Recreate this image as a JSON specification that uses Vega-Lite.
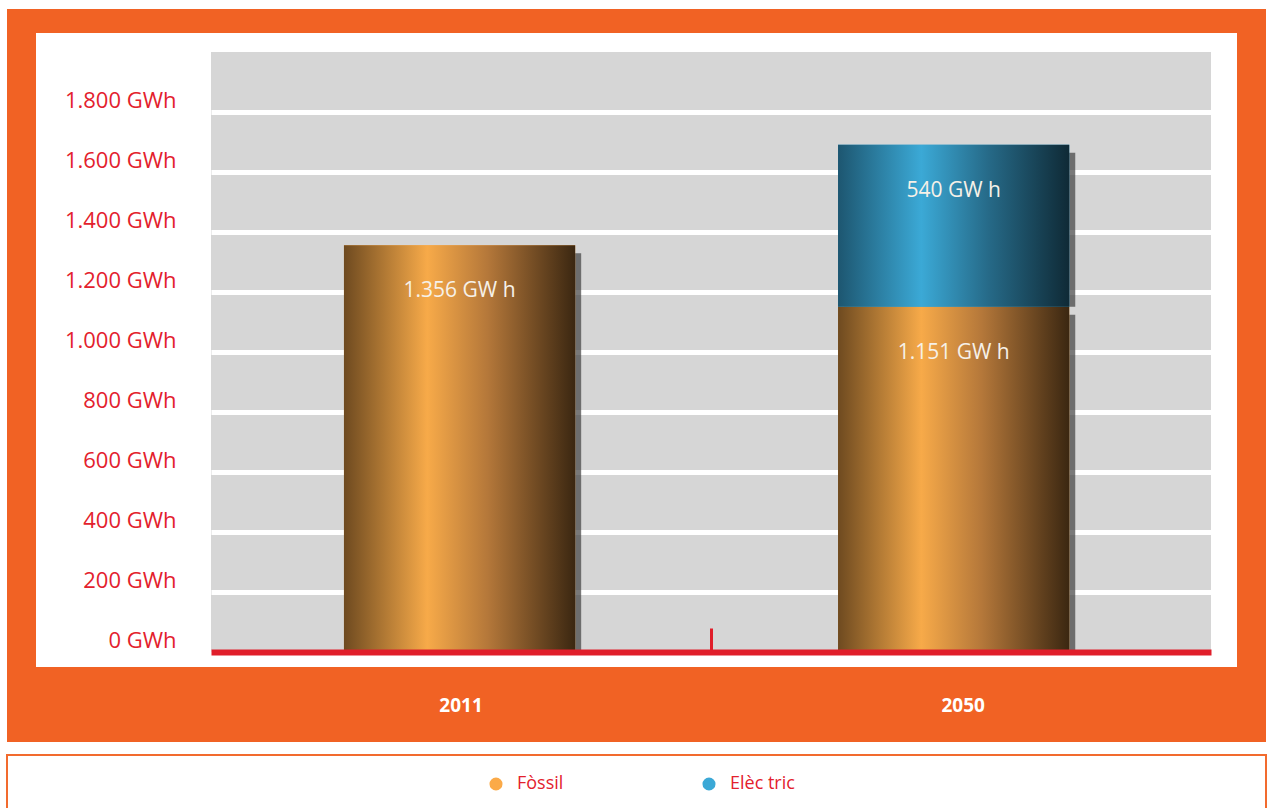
{
  "$schema": "https://vega.github.io/schema/vega-lite/v6.json",
  "width": 1000,
  "height": 600,
  "autosize": {"type": "none"},
  "padding": {"left": 211, "top": 52, "right": 57, "bottom": 156},
  "background": "white",
  "config": {"view": {"fill": "#d6d6d6", "stroke": null}, "font": "Open Sans"},
  "layer": [
    {
      "data": {"values": [{}]},
      "layer": [
        {
          "mark": {"type": "rect", "color": "#f16224", "clip": false},
          "encoding": {
            "x": {"datum": -204, "type": "quantitative", "scale": {"domain": [0, 1000], "nice": false}, "axis": null},
            "x2": {"datum": 1055},
            "y": {"datum": -43, "type": "quantitative", "scale": {"domain": [0, 600], "nice": false, "reverse": true}, "axis": null},
            "y2": {"datum": -19}
          }
        },
        {
          "mark": {"type": "rect", "color": "#f16224", "clip": false},
          "encoding": {
            "x": {"datum": -204, "type": "quantitative", "scale": {"domain": [0, 1000], "nice": false}, "axis": null},
            "x2": {"datum": 1055},
            "y": {"datum": 615, "type": "quantitative", "scale": {"domain": [0, 600], "nice": false, "reverse": true}, "axis": null},
            "y2": {"datum": 690}
          }
        },
        {
          "mark": {"type": "rect", "color": "#f16224", "clip": false},
          "encoding": {
            "x": {"datum": -204, "type": "quantitative", "scale": {"domain": [0, 1000], "nice": false}, "axis": null},
            "x2": {"datum": -175},
            "y": {"datum": -19, "type": "quantitative", "scale": {"domain": [0, 600], "nice": false, "reverse": true}, "axis": null},
            "y2": {"datum": 615}
          }
        },
        {
          "mark": {"type": "rect", "color": "#f16224", "clip": false},
          "encoding": {
            "x": {"datum": 1026, "type": "quantitative", "scale": {"domain": [0, 1000], "nice": false}, "axis": null},
            "x2": {"datum": 1055},
            "y": {"datum": -19, "type": "quantitative", "scale": {"domain": [0, 600], "nice": false, "reverse": true}, "axis": null},
            "y2": {"datum": 615}
          }
        },
        {
          "mark": {"type": "rect", "fill": "white", "stroke": "#f26b2e", "strokeWidth": 2, "clip": false},
          "encoding": {
            "x": {"datum": -204, "type": "quantitative", "scale": {"domain": [0, 1000], "nice": false}, "axis": null},
            "x2": {"datum": 1055},
            "y": {"datum": 703, "type": "quantitative", "scale": {"domain": [0, 600], "nice": false, "reverse": true}, "axis": null},
            "y2": {"datum": 790}
          }
        }
      ]
    },
    {
      "data": {
        "values": [
          {"year": "2011", "type": "Fòssil", "value": 1356, "label": "1.356 GW h"},
          {"year": "2050", "type": "Fòssil", "value": 1151, "label": "1.151 GW h"},
          {"year": "2050", "type": "Elèc tric", "value": 540, "label": "540 GW h"}
        ]
      },
      "transform": [
        {"stack": "value", "groupby": ["year"], "sort": [{"field": "type", "order": "descending"}], "as": ["v0", "v1"]}
      ],
      "encoding": {
        "x": {
          "field": "year",
          "type": "nominal",
          "scale": {"paddingInner": 0.532, "paddingOuter": 0.278, "align": 0.484},
          "axis": {
            "orient": "bottom",
            "title": null,
            "labelAngle": 0,
            "labelFont": "Open Sans",
            "labelFontWeight": "bold",
            "labelFontSize": 19,
            "labelColor": "white",
            "labelPadding": 77,
            "labelBaseline": "middle",
            "labelOffset": {"condition": {"test": "datum.value === '2050'", "value": -242}, "value": -250},
            "domainColor": "#e01e2a",
            "domainWidth": 6,
            "tickOffset": 251,
            "tickColor": "#e01e2a",
            "tickWidth": 3,
            "tickSize": -24,
            "tickOpacity": {"condition": {"test": "datum.value === '2050'", "value": 0}, "value": 1},
            "grid": false,
            "zindex": 1
          }
        },
        "y": {
          "field": "v1",
          "type": "quantitative",
          "scale": {"domain": [0, 2000], "nice": false},
          "axis": {
            "orient": "left",
            "title": null,
            "values": [0, 200, 400, 600, 800, 1000, 1200, 1400, 1600, 1800],
            "labelExpr": "replace(format(datum.value, ','), ',', '.') + ' GWh'",
            "labelFont": "Open Sans",
            "labelFontSize": 22,
            "labelColor": "#e3212d",
            "labelPadding": 35,
            "labelOffset": -12,
            "labelBaseline": "middle",
            "ticks": false,
            "domain": false,
            "grid": true,
            "gridColor": "white",
            "gridWidth": 5,
            "zindex": 0
          }
        }
      },
      "layer": [
        {
          "mark": {"type": "bar", "fill": "#404040", "opacity": 0.7, "xOffset": 6, "yOffset": 8},
          "encoding": {"y2": {"field": "v0"}}
        },
        {
          "mark": {"type": "bar"},
          "encoding": {
            "y2": {"field": "v0"},
            "color": {
              "field": "type",
              "type": "nominal",
              "sort": ["Fòssil", "Elèc tric"],
              "scale": {"domain": ["Fòssil", "Elèc tric"], "range": ["#fbaa48", "#3ba8d6"]},
              "legend": {
                "orient": "none",
                "legendX": 276,
                "legendY": 723,
                "direction": "horizontal",
                "title": null,
                "labelFont": "Open Sans",
                "labelFontSize": 18,
                "labelColor": "#e3212d",
                "symbolType": "circle",
                "symbolSize": 170,
                "symbolStrokeWidth": 0,
                "columnPadding": 136,
                "labelOffset": 12,
                "padding": 0
              }
            }
          }
        },
        {
          "mark": {"type": "bar"},
          "encoding": {
            "y2": {"field": "v0"},
            "fill": {
              "condition": {
                "test": "datum.type === 'Fòssil'",
                "value": {"gradient": "linear", "x1": 0, "x2": 1, "y1": 0, "y2": 0, "stops": [
                  {"offset": 0, "color": "#6e4a20"},
                  {"offset": 0.36, "color": "#f7aa49"},
                  {"offset": 0.62, "color": "#b5783a"},
                  {"offset": 1, "color": "#3b2711"}
                ]}
              },
              "value": {"gradient": "linear", "x1": 0, "x2": 1, "y1": 0, "y2": 0, "stops": [
                {"offset": 0, "color": "#1d5670"},
                {"offset": 0.36, "color": "#3ba9d6"},
                {"offset": 0.65, "color": "#266a88"},
                {"offset": 1, "color": "#0f2a36"}
              ]}
            }
          }
        },
        {
          "mark": {"type": "text", "dy": 46, "fontSize": 21, "font": "Open Sans", "color": "#f6f1e8", "baseline": "middle"},
          "encoding": {"text": {"field": "label"}}
        }
      ]
    }
  ],
  "resolve": {"scale": {"x": "independent", "y": "independent"}}
}
